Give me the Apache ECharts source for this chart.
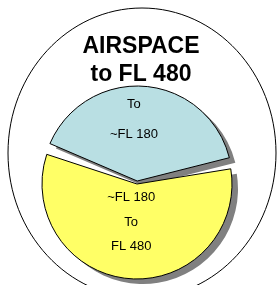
<!DOCTYPE html>
<html>
<head>
<meta charset="utf-8">
<script src="https://cdn.jsdelivr.net/npm/echarts@6/dist/echarts.min.js"></script>
<style>
  html, body { margin: 0; padding: 0; background: #fff; }
  #echart { width: 277px; height: 285px; }
</style>
</head>
<body>
<div id="echart"></div>
<script>
// data
var titleLines = ['AIRSPACE', 'to FL 480'];
var sliceNames = ['To ~FL 180', '~FL 180 To FL 480'];
var sliceValues = [41, 59];
var sliceLabels = [['To', '~FL 180'], ['~FL 180', 'To', 'FL 480']];

var sliceColors = ['#b9dfe3', '#ffff66'];

var dom = document.getElementById('echart');
var myChart = echarts.init(dom, null, { renderer: 'canvas' });

// blank lines push the label text up from the middle of its slice,
// trailing spaces push it a little to the left
function padLines(lines, spaces) {
    return lines.map(function (s) { return s + spaces; });
}
var labelText = [
    padLines(sliceLabels[0], '    ').join('\n\n\n\n') + '\n\n\n',
    padLines(sliceLabels[1], ' ').join('\n') + '\n'
];

var pieData = [];
var shadowData = [];
for (var i = 0; i < sliceValues.length; i++) {
    pieData.push({
        name: sliceNames[i],
        value: sliceValues[i],
        selected: i == 0,
        itemStyle: { color: sliceColors[i] },
        label: { formatter: labelText[i], lineHeight: i == 0 ? 7.5 : 24.5 }
    });
    shadowData.push({
        name: sliceNames[i],
        value: sliceValues[i],
        selected: i == 0
    });
}

// shared pie geometry
var pieBase = {
    type: 'pie',
    radius: [0, 95],
    startAngle: 159.3,
    clockwise: true,
    padAngle: 5,
    selectedMode: 'single',
    selectedOffset: 3,
    avoidLabelOverlap: false,
    emphasis: { disabled: true }
};

option = {
    animation: false,
    title: {
        text: titleLines.join('\n'),
        left: 136,
        top: 28,
        textAlign: 'center',
        textStyle: {
            fontFamily: 'Liberation Sans, Arial, sans-serif',
            fontSize: 23,
            fontWeight: 'bold',
            color: '#000',
            lineHeight: 28
        }
    },
    // the big outline round everything
    graphic: [{
        type: 'ellipse',
        z: 0,
        silent: true,
        shape: { cx: 142, cy: 153, rx: 134, ry: 145 },
        style: { fill: '#fff', stroke: '#000', lineWidth: 1 }
    }],
    series: [
        // gray drop shadow
        Object.assign({}, pieBase, {
            z: 2,
            silent: true,
            center: [143, 189],
            itemStyle: { color: '#808080', borderWidth: 0 },
            label: { show: false },
            labelLine: { show: false },
            data: shadowData
        }),
        Object.assign({}, pieBase, {
            z: 3,
            center: [137, 184],
            itemStyle: { borderColor: '#000', borderWidth: 1 },
            label: {
                show: true,
                position: 'inside',
                fontFamily: 'Liberation Sans, Arial, sans-serif',
                fontSize: 13,
                color: '#000'
            },
            labelLine: { show: false },
            data: pieData
        })
    ]
};

myChart.setOption(option);
</script>
</body>
</html>
